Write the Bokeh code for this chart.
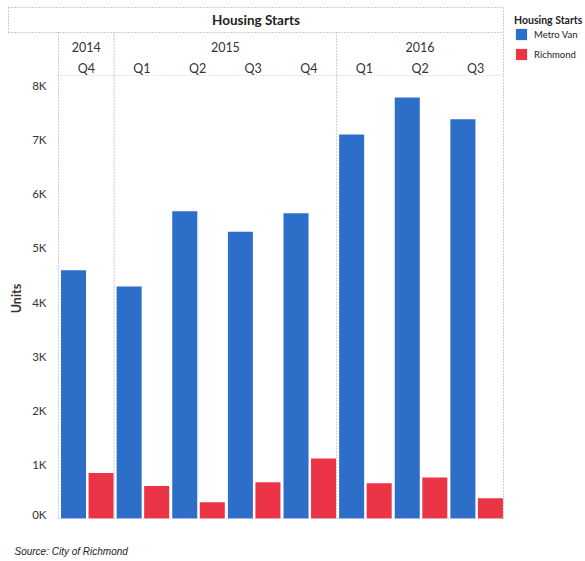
from bokeh.plotting import figure
from bokeh.layouts import column
from bokeh.models import Range1d, FixedTicker, ColumnDataSource, Legend, LegendItem
from bokeh.core.properties import value
from bokeh.transform import dodge
from bokeh.embed import file_html
from bokeh.resources import INLINE

# ---- data -------------------------------------------------------------
years = ["2014", "2015", "2016"]
year_quarters = [["Q4"], ["Q1", "Q2", "Q3", "Q4"], ["Q1", "Q2", "Q3"]]
metro_van = [4590, 4290, 5680, 5300, 5640, 7100, 7780, 7380]
richmond = [840, 600, 300, 670, 1110, 650, 760, 375]
y_ticks = [0, 1000, 2000, 3000, 4000, 5000, 6000, 7000, 8000]
y_tick_labels = ["0K", "1K", "2K", "3K", "4K", "5K", "6K", "7K", "8K"]
series_names = ["Metro Van", "Richmond"]

# ---- style / geometry -------------------------------------------------
BLUE = "#2d6ec9"
RED = "#ec3447"
TEXT = "#333333"
RULE = "#9a9aa6"
FONT = "Lato"

W = 585
HEADER_H = 76          # title box + year row + quarter row
MAIN_H = 444           # plotting pane
FOOTER_H = 561 - HEADER_H - MAIN_H
PANE_L, PANE_R = 58, 503       # pixel span of the eight quarter columns
BASE_PX = 518                  # pixel row of the zero line
Y_MAX = 8170                   # value at the top of the pane

n_cols = sum(len(q) for q in year_quarters)
px_per_x = (PANE_R - PANE_L) / n_cols
px_per_y = (BASE_PX - HEADER_H) / Y_MAX


def dx(px):
    return (px - PANE_L) / px_per_x


def dy(py):
    return (BASE_PX - py) / px_per_y


def bare(fig):
    fig.outline_line_color = None
    fig.grid.visible = False
    fig.background_fill_color = "white"
    fig.border_fill_color = "white"
    fig.frame_align = False


bounds = [0]
for q in year_quarters:
    bounds.append(bounds[-1] + len(q))
mids = [i + 0.5 for i in range(n_cols)]
box_left = dx(8)

# ---- header: title box, years, quarters, legend -----------------------
hdr = figure(width=W, height=HEADER_H, x_range=Range1d(dx(0), dx(W)),
             y_range=Range1d(HEADER_H, 0), output_backend="svg", toolbar_location=None,
             min_border=0, x_axis_type=None, y_axis_type=None)
bare(hdr)

hx0 = [box_left, box_left, box_left, n_cols, 0]
hy0 = [7, 32, 7, 7, 75.5]
hx1 = [n_cols, n_cols, box_left, n_cols, n_cols]
hy1 = [7, 32, 32, 76, 75.5]
for b in bounds[1:-1] + [0]:
    hx0.append(b); hy0.append(32); hx1.append(b); hy1.append(76)
hdr.segment(x0=hx0, y0=hy0, x1=hx1, y1=hy1, line_color=RULE, line_width=1,
            line_dash="1 2")

hdr.text(x=[(box_left + n_cols) / 2], y=[19], text=["Housing Starts"],
         text_align="center", text_baseline="middle", text_font=value(FONT),
         text_font_style="bold", text_font_size="13.5px", text_color="#222222")

year_x = [(bounds[i] + bounds[i + 1]) / 2 for i in range(len(years))]
hdr.text(x=year_x, y=[46] * len(years), text=years, text_align="center",
         text_baseline="middle", text_font=value(FONT), text_font_size="12.5px",
         text_color=TEXT)

q_labels = [q for qs in year_quarters for q in qs]
hdr.text(x=mids, y=[68] * n_cols, text=q_labels, text_align="center",
         text_baseline="middle", text_font=value(FONT), text_font_size="12.5px",
         text_color=TEXT)

# legend keys: zero-height bars, so only their swatches show in the legend
key_src = ColumnDataSource(dict(x=[0], top=[0]))
k_metro = hdr.vbar(x="x", top="top", width=0.45, source=key_src,
                   fill_color=BLUE, line_color=None)
k_rich = hdr.vbar(x="x", top="top", width=0.45, source=key_src,
                  fill_color=RED, line_color=None)
legend = Legend(items=[LegendItem(label=series_names[0], renderers=[k_metro]),
                       LegendItem(label=series_names[1], renderers=[k_rich])],
                title="Housing Starts", location=(514, 15),
                title_text_font=FONT, title_text_font_style="bold",
                title_text_font_size="10.5px", title_text_color="#222222",
                title_standoff=1,
                label_text_font=FONT, label_text_font_size="9.5px",
                label_text_color="#222222",
                glyph_width=14, glyph_height=14, label_height=14, label_standoff=6,
                spacing=6, padding=0, margin=0,
                border_line_color=None, background_fill_alpha=0)
hdr.add_layout(legend)

# ---- main pane: bars and value axis ------------------------------------
p = figure(width=W, height=MAIN_H,
           x_range=Range1d(dx(PANE_L - 1), dx(PANE_R + 2)),
           y_range=Range1d(dy(HEADER_H + MAIN_H), Y_MAX),
           output_backend="svg", toolbar_location=None,
           min_border_left=PANE_L - 1, min_border_right=W - PANE_R - 2,
           min_border_top=0, min_border_bottom=0)
bare(p)
p.xaxis.visible = False

src = ColumnDataSource(dict(mid=mids, metro=metro_van, rich=richmond))
p.vbar(x=dodge("mid", -0.23, range=p.x_range), top="metro", width=0.45,
       source=src, fill_color=BLUE, line_color=None)
p.vbar(x=dodge("mid", 0.265, range=p.x_range), top="rich", width=0.45,
       source=src, fill_color=RED, line_color=None)

vx = bounds[:-1] + [n_cols]
p.segment(x0=vx, y0=[0] * len(vx), x1=vx, y1=[Y_MAX] * len(vx),
          line_color=RULE, line_width=1, line_dash="1 2")
p.segment(x0=[0], y0=[0], x1=[n_cols], y1=[0], line_color="#c4c4cc",
          line_width=1, line_dash="1 2")

ax = p.yaxis[0]
ax.ticker = FixedTicker(ticks=y_ticks)
ax.major_label_overrides = dict(zip(y_ticks, y_tick_labels))
ax.axis_line_color = None
ax.major_tick_line_color = None
ax.minor_tick_line_color = None
ax.major_label_text_font = FONT
ax.major_label_text_font_size = "11.5px"
ax.major_label_text_color = TEXT
ax.axis_label = "Units"
ax.axis_label_text_font = FONT
ax.axis_label_text_font_style = "bold"
ax.axis_label_text_font_size = "12.5px"
ax.axis_label_text_color = TEXT
ax.axis_label_standoff = 5

# ---- footer: source note ----------------------------------------------
ftr = figure(width=W, height=FOOTER_H, x_range=Range1d(dx(0), dx(W)),
             y_range=Range1d(FOOTER_H, 0), output_backend="svg", toolbar_location=None,
             min_border=0, x_axis_type=None, y_axis_type=None)
bare(ftr)
ftr.text(x=[dx(14)], y=[31], text=["Source: City of Richmond"], text_align="left",
         text_baseline="middle", text_font=value("Liberation Sans"),
         text_font_style="italic", text_font_size="10px", text_color="#222222")

page = column(hdr, p, ftr, spacing=0)
open("out.html", "w").write(file_html(page, INLINE))
